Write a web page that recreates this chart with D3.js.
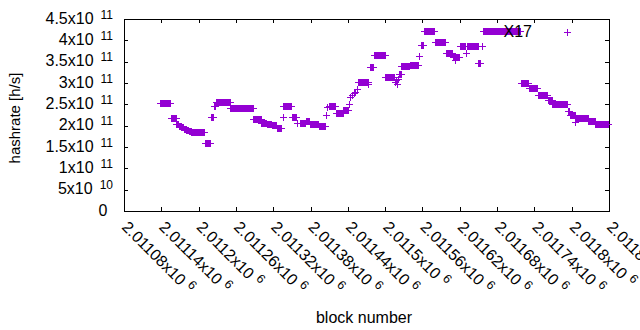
<!DOCTYPE html>
<html><head><meta charset="utf-8">
<script src="https://cdn.jsdelivr.net/npm/d3@7"></script>
<style>
body{margin:0;background:#fff}
text{font-family:"Liberation Sans",Arial,sans-serif;fill:#000}
</style>
</head><body><svg id="c" width="640" height="330"></svg>
<script>
// Runs of consecutive blocks that share one hashrate value
const runStart = [2011138,2011155,2011164,2011168,2011172,2011176,2011180,2011184,2011188,2011210,2011220,2011224,2011228,2011251,2011288,2011301,2011310,2011318,2011326,2011335,2011336,2011350,2011359,2011363,2011372,2011379,2011393,2011405,2011407,2011409,2011421,2011433,2011442,2011443,2011447,2011450,2011452,2011455,2011457,2011473,2011476,2011482,2011500,2011516,2011517,2011519,2011521,2011523,2011526,2011540,2011555,2011557,2011563,2011580,2011598,2011609,2011613,2011620,2011630,2011632,2011650,2011656,2011658,2011718,2011732,2011746,2011762,2011769,2011794,2011797,2011805,2011806,2011827,2011838];
const runEnd   = [2011154,2011163,2011167,2011171,2011175,2011179,2011183,2011187,2011208,2011219,2011223,2011226,2011250,2011287,2011300,2011309,2011317,2011325,2011332,2011335,2011349,2011357,2011359,2011371,2011378,2011392,2011403,2011405,2011407,2011420,2011432,2011441,2011442,2011443,2011447,2011450,2011452,2011455,2011472,2011473,2011481,2011499,2011515,2011516,2011517,2011519,2011521,2011525,2011539,2011553,2011555,2011561,2011579,2011597,2011608,2011619,2011613,2011629,2011630,2011650,2011653,2011656,2011717,2011730,2011744,2011761,2011768,2011793,2011796,2011805,2011805,2011826,2011837,2011859];
const runValue = [2.53e11,2.175e11,2.035e11,1.995e11,1.965e11,1.93e11,1.895e11,1.875e11,1.846e11,1.59e11,2.2e11,2.45e11,2.55e11,2.41e11,2.16e11,2.06e11,2.035e11,2.01e11,1.95e11,2.21e11,2.455e11,2.2e11,2.065e11,2.07e11,2.11e11,2.035e11,1.99e11,2.25e11,2.43e11,2.47e11,2.29e11,2.36e11,2.51e11,2.67e11,2.72e11,2.76e11,2.8e11,2.86e11,3.02e11,2.97e11,3.37e11,3.65e11,3.15e11,3.03e11,3.06e11,2.97e11,3.1e11,3.2e11,3.39e11,3.43e11,3.64e11,3.9e11,4.21e11,3.97e11,3.7e11,3.62e11,3.53e11,3.87e11,3.71e11,3.87e11,3.46e11,3.86e11,4.21e11,3.0e11,2.88e11,2.715e11,2.6e11,2.5e11,2.34e11,2.25e11,2.08e11,2.17e11,2.1e11,2.035e11];

const seriesName = "X17";
const xDomain = [2011080, 2011860];
const yDomain = [0, 4.5e11];
const xTickValues = [2011080,2011140,2011200,2011260,2011320,2011380,2011440,2011500,2011560,2011620,2011680,2011740,2011800,2011860];
const xTickBase = ["2.01108x10","2.01114x10","2.0112x10","2.01126x10","2.01132x10","2.01138x10","2.01144x10","2.0115x10","2.01156x10","2.01162x10","2.01168x10","2.01174x10","2.0118x10","2.01186x10"];
const xTickExp = ["6","6","6","6","6","6","6","6","6","6","6","6","6","6"];
const yTickValues = [0,5e10,1e11,1.5e11,2e11,2.5e11,3e11,3.5e11,4e11,4.5e11];
const yTickBase = ["0","5x10","1x10","1.5x10","2x10","2.5x10","3x10","3.5x10","4x10","4.5x10"];
const yTickExp = ["","10","11","11","11","11","11","11","11","11"];
const xTitle = "block number";
const yTitle = "hashrate [h/s]";

const color = "#9400d3";
const L = 124, R = 609, T = 19, B = 211;
const svg = d3.select("#c");
const x = d3.scaleLinear().domain(xDomain).range([L, R]);
const y = d3.scaleLinear().domain(yDomain).range([B, T]);

// points
const pts = [];
runStart.forEach((s, i) => { for (let b = s; b <= runEnd[i]; b++) pts.push({b, v: runValue[i]}); });

// axes with ticks (inward, mirrored)
const tl = 4;
const g = svg.append("g");
g.append("g").attr("transform", `translate(${L},0)`).call(d3.axisLeft(y).tickValues(yTickValues).tickSize(-tl).tickFormat(""));
g.append("g").attr("transform", `translate(${R},0)`).call(d3.axisRight(y).tickValues(yTickValues).tickSize(-tl).tickFormat(""));
g.append("g").attr("transform", `translate(0,${B})`).call(d3.axisBottom(x).tickValues(xTickValues).tickSize(-tl).tickFormat(""));
g.append("g").attr("transform", `translate(0,${T})`).call(d3.axisTop(x).tickValues(xTickValues).tickSize(-tl).tickFormat(""));
g.selectAll(".domain").remove();
g.selectAll("line").attr("stroke", "#000").attr("shape-rendering", "crispEdges");
svg.append("rect").attr("x", L + 0.5).attr("y", T + 0.5).attr("width", R - L).attr("height", B - T)
  .attr("fill", "none").attr("stroke", "#000").attr("shape-rendering", "crispEdges");

// y tick labels
yTickValues.forEach((v, i) => {
  const t = svg.append("text").attr("x", yTickExp[i] ? 113 : 107.5).attr("y", y(v) + 4.5)
    .attr("text-anchor", "end").attr("font-size", 16).text(yTickBase[i]);
  if (yTickExp[i]) t.append("tspan").attr("dx", 7).attr("dy", -5).attr("font-size", 12).text(yTickExp[i]);
});

// x tick labels (rotated)
xTickValues.forEach((v, i) => {
  const t = svg.append("text").attr("transform", `translate(${x(v) + 1},${B + 13}) rotate(45)`)
    .attr("font-size", 16).attr("dy", "0.35em").text(xTickBase[i]);
  t.append("tspan").attr("dx", 5).attr("dy", -6).attr("font-size", 12.5).text(xTickExp[i]);
});

// titles
svg.append("text").attr("transform", `translate(20,118) rotate(-90)`).attr("text-anchor", "middle")
  .attr("font-size", 15).text(yTitle);
svg.append("text").attr("x", 364).attr("y", 323).attr("text-anchor", "middle")
  .attr("font-size", 16).text(xTitle);

// points as plus markers
const plus = (cx, cy) => `M${cx - 3},${cy + 0.5}H${cx + 4}M${cx + 0.5},${cy - 3}V${cy + 4}`;
svg.append("g").selectAll("path").data(pts).join("path")
  .attr("d", d => plus(Math.round(x(d.b)), Math.round(y(d.v))))
  .attr("stroke", color).attr("stroke-width", 1).attr("fill", "none").attr("shape-rendering", "crispEdges");

// legend
svg.append("text").attr("x", 532).attr("y", 37).attr("text-anchor", "end").attr("font-size", 16).text(seriesName);
svg.append("path").attr("d", plus(567, 32)).attr("stroke", color).attr("fill", "none").attr("shape-rendering", "crispEdges");
</script>
</body></html>
